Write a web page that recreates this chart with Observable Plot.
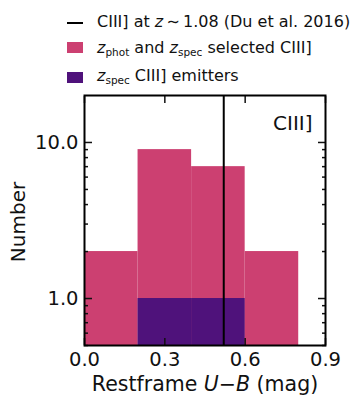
<!DOCTYPE html>
<html><head><meta charset="utf-8">
<script src="https://cdn.jsdelivr.net/npm/d3@7"></script>
<script src="https://cdn.jsdelivr.net/npm/@observablehq/plot@0.6"></script>
<style>
body{margin:0;background:#fff;font-family:"DejaVu Sans",sans-serif;}
#wrap{position:relative;width:358px;height:406px;overflow:hidden;}
.lt{position:absolute;left:97px;font-size:16px;line-height:16px;color:#111;white-space:nowrap;}
.lt sub{font-size:10.5px;vertical-align:-3px;line-height:0;}
.sw{position:absolute;left:67px;width:16px;}
</style></head><body>
<div id="wrap"></div>
<script>
// Histogram bins (Restframe U-B, mag)
const binStarts = [0.0, 0.2, 0.4, 0.6];
const binEnds = [0.2, 0.4, 0.6, 0.8];
const photSpecCounts = [2, 9, 7, 2];   // zphot and zspec selected CIII]
const specCounts = [0, 1, 1, 0];       // zspec CIII] emitters
const duUB = [0.52];                   // CIII] at z~1.08 (Du et al. 2016)
const xTicks = [0, 0.3, 0.6, 0.9];
const yMajor = [1, 10];
const yMinor = [0.5, 0.6, 0.7, 0.8, 0.9, 2, 3, 4, 5, 6, 7, 8, 9];
const yDomain = [0.5, 20];
const xDomain = [0, 0.9];

const pink = "#cc4071", purple = "#4f127b";
const idx = d3.range(binStarts.length);
const specIdx = idx.filter(i => specCounts[i] > 0);

const tickOpts = {tickFormat: () => "", label: null, strokeWidth: 1.5};
const plot = Plot.plot({
  width: 358, height: 406,
  marginTop: 95, marginBottom: 61, marginLeft: 84, marginRight: 33,
  style: {fontFamily: "DejaVu Sans, sans-serif", fontSize: "19.5px", color: "#111", background: "transparent"},
  x: {domain: xDomain},
  y: {type: "log", domain: yDomain},
  marks: [
    Plot.rect(idx, {x1: i => binStarts[i], x2: i => binEnds[i], y1: () => yDomain[0], y2: i => photSpecCounts[i], fill: pink}),
    Plot.rect(specIdx, {x1: i => binStarts[i], x2: i => binEnds[i], y1: () => yDomain[0], y2: i => specCounts[i], fill: purple}),
    Plot.ruleX(duUB, {stroke: "black", strokeWidth: 2}),
    Plot.axisX(xTicks, {anchor: "bottom", tickSize: 0, tickPadding: 7, tickFormat: d => d.toFixed(1), label: null}),
    Plot.axisX(xTicks, {anchor: "bottom", tickSize: -7, ...tickOpts}),
    Plot.axisX(xTicks, {anchor: "top", tickSize: -7, ...tickOpts}),
    Plot.axisY(yMajor, {anchor: "left", tickSize: 0, tickPadding: 6, tickFormat: d => d.toFixed(1), label: null}),
    Plot.axisY(yMajor, {anchor: "left", tickSize: -8, ...tickOpts}),
    Plot.axisY(yMinor, {anchor: "left", tickSize: -4, ...tickOpts}),
    Plot.axisY(yMajor, {anchor: "right", tickSize: -8, ...tickOpts}),
    Plot.axisY(yMinor, {anchor: "right", tickSize: -4, ...tickOpts}),
    Plot.text(["CIII]"], {frameAnchor: "top-right", textAnchor: "end", lineAnchor: "top", dx: -13, dy: 20, fontSize: 20}),
    Plot.frame({stroke: "black", strokeWidth: 2})
  ]
});

const svg = d3.select(plot);
svg.append("text").attr("x", 205).attr("y", 391).attr("text-anchor", "middle")
  .attr("font-size", 20.5).attr("fill", "#111")
  .call(t => {
    t.append("tspan").text("Restframe ");
    t.append("tspan").attr("font-style", "italic").text("U");
    t.append("tspan").text("\u2212");
    t.append("tspan").attr("font-style", "italic").text("B");
    t.append("tspan").text(" (mag)");
  });
svg.append("text").attr("transform", "translate(25,222) rotate(-90)").attr("text-anchor", "middle")
  .attr("font-size", 20).attr("fill", "#111").text("Number");

const wrap = document.getElementById("wrap");
wrap.appendChild(plot);
plot.style.position = "absolute"; plot.style.left = "0"; plot.style.top = "0";

wrap.insertAdjacentHTML("beforeend", `
  <div class="sw" style="top:21.5px;height:2.5px;background:#000"></div>
  <div class="lt" style="top:13.5px">CIII] at <i>z</i>\u2009\u223c\u20091.08 (Du et al. 2016)</div>
  <div class="sw" style="top:42px;height:11px;background:${pink}"></div>
  <div class="lt" style="top:40px"><i>z</i><sub>phot</sub> and <i>z</i><sub>spec</sub> selected CIII]</div>
  <div class="sw" style="top:72px;height:11px;background:${purple}"></div>
  <div class="lt" style="top:68px"><i>z</i><sub>spec</sub> CIII] emitters</div>
`);
</script>
</body></html>
